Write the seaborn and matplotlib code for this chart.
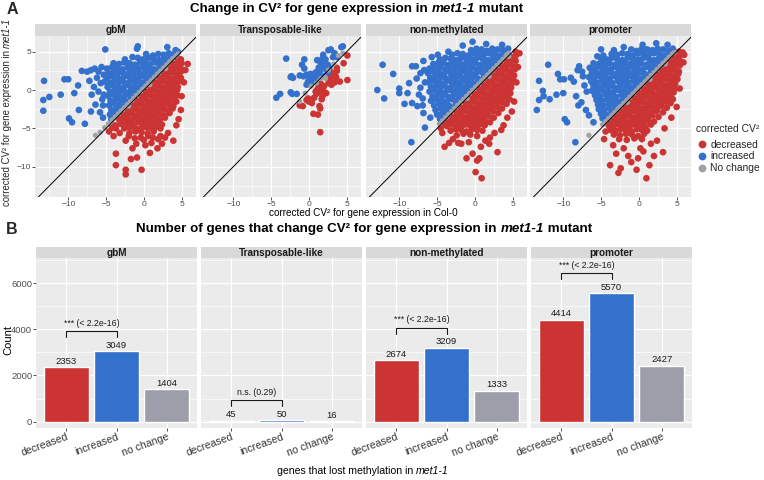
import matplotlib
matplotlib.use("Agg")
import matplotlib.pyplot as plt
from matplotlib.lines import Line2D
import pandas as pd
import seaborn as sns

# ---------------- data ----------------
facets = ["gbM", "Transposable-like", "non-methylated", "promoter"]
status_levels = ["decreased", "increased", "No change"]
change_levels = ["decreased", "increased", "no change"]

counts_decreased = [2353, 45, 2674, 4414]
counts_increased = [3049, 50, 3209, 5570]
counts_nochange = [1404, 16, 1333, 2427]
pvalue_labels = ["*** (< 2.2e-16)", "n.s. (0.29)", "*** (< 2.2e-16)", "*** (< 2.2e-16)"]

x_ticks_scatter = [-10, -5, 0, 5]
y_ticks_scatter = [-10, -5, 0, 5]
y_ticks_count = [0, 2000, 4000, 6000]

# scatter points (x = CV2 in Col-0, y = CV2 in met1-1)
gbm_increased = [
    (1.2, 4.5), (1.9, 4.7), (2.6, 4.6), (3.3, 4.8), (3.9, 4.6),
    (-0.8, 4.2), (-0.1, 4.0), (0.6, 4.2), (1.3, 4.1), (2.0, 3.9), (2.7, 4.2), (3.4, 4.1),
    (-3.3, 3.4), (-2.6, 3.6), (-1.9, 3.5), (-1.2, 3.3), (-0.5, 3.6), (0.2, 3.5), (0.9, 3.4), (1.6, 3.6), (2.3, 3.5), (2.9, 3.6),
    (-4.9, 2.8), (-4.2, 3.0), (-3.5, 2.9), (-2.8, 2.7), (-2.1, 3.0), (-1.4, 2.9), (-0.7, 2.8), (0.0, 3.0), (0.7, 2.9), (1.4, 2.7), (2.1, 3.0), (2.5, 3.1),
    (-4.7, 2.2), (-4.0, 2.4), (-3.3, 2.3), (-2.6, 2.1), (-1.9, 2.4), (-1.2, 2.3), (-0.5, 2.2), (0.2, 2.4), (0.9, 2.3), (1.6, 2.2), (1.9, 2.5),
    (-4.9, 1.6), (-4.2, 1.8), (-3.5, 1.7), (-2.8, 1.5), (-2.1, 1.8), (-1.4, 1.7), (-0.7, 1.6), (0.0, 1.8), (0.7, 1.7), (1.3, 1.9),
    (-4.6, 1.0), (-3.9, 1.2), (-3.2, 1.1), (-2.5, 0.9), (-1.8, 1.2), (-1.1, 1.1), (-0.4, 1.0), (0.3, 1.2), (0.7, 1.3),
    (-4.8, 0.4), (-4.1, 0.6), (-3.4, 0.5), (-2.7, 0.3), (-2.0, 0.6), (-1.3, 0.5), (-0.6, 0.4), (0.1, 0.6),
    (-4.5, -0.2), (-3.8, 0.0), (-3.1, -0.1), (-2.4, -0.3), (-1.7, 0.0), (-1.0, -0.1), (-0.5, 0.1),
    (-4.7, -0.8), (-4.0, -0.6), (-3.3, -0.7), (-2.6, -0.9), (-1.9, -0.6), (-1.1, -0.5),
    (-4.4, -1.4), (-3.7, -1.2), (-3.0, -1.3), (-2.3, -1.5), (-1.7, -1.1),
    (-4.6, -2.0), (-3.9, -1.8), (-3.2, -1.9), (-2.4, -1.7),
    (-4.3, -2.6), (-3.6, -2.4), (-2.9, -2.3),
    (-4.5, -3.2), (-3.8, -3.0), (-3.5, -3.0), (-4.3, -3.8), (-4.1, -3.5),
    (-13.3, -2.7), (-13.3, -1.3), (-13.2, 1.2), (-12.5, -0.9), (-11.0, -0.6), (-10.5, 1.4), (-10.0, 1.4),
    (-9.9, -3.7), (-9.5, -4.2), (-7.8, -4.4), (-8.6, -2.6), (-8.2, 2.5), (-7.5, 2.4), (-9.2, -0.4),
    (-8.7, 0.6), (-7.0, 2.6), (-6.5, 2.8), (-6.0, 2.4), (-5.6, 3.0), (-7.2, 1.2), (-6.6, 0.4), (-6.2, 1.6),
    (-5.7, 0.9), (-6.9, -0.6), (-6.0, -0.2), (-5.5, -1.2), (-6.4, -1.9), (-7.0, -2.8), (-5.8, -2.9),
    (-5.4, -2.0), (-5.3, 2.0), (-5.4, -3.6), (-5.1, 5.3), (-0.9, 5.4), (-0.8, 5.7), (3.1, 5.6), (4.2, 5.2),
    (-4.0, 3.5), (-2.5, 4.0), (-1.5, 4.3), (0.3, 4.7), (4.5, 5.0), (-5.2, 1.1), (-5.3, -0.6),
]
gbm_decreased = [
    (4.5, 4.1), (4.9, 4.0),
    (3.9, 3.4), (4.5, 3.6), (5.0, 3.5),
    (3.3, 2.8), (3.9, 3.0), (4.5, 2.9), (5.0, 2.7),
    (2.7, 2.2), (3.3, 2.4), (3.9, 2.3), (4.5, 2.1), (4.9, 2.4),
    (2.1, 1.6), (2.7, 1.8), (3.3, 1.7), (3.9, 1.5), (4.5, 1.8), (4.9, 1.6),
    (1.5, 1.0), (2.1, 1.2), (2.7, 1.1), (3.3, 0.9), (3.9, 1.2), (4.5, 1.0),
    (0.9, 0.4), (1.5, 0.6), (2.1, 0.5), (2.7, 0.3), (3.3, 0.6), (3.9, 0.5), (4.5, 0.4),
    (0.3, -0.2), (0.9, 0.0), (1.5, -0.1), (2.1, -0.3), (2.7, 0.0), (3.3, -0.1), (3.9, -0.2), (4.4, 0.0),
    (-0.3, -0.8), (0.3, -0.6), (0.9, -0.7), (1.5, -0.9), (2.1, -0.6), (2.7, -0.7), (3.3, -0.8), (3.9, -0.6), (4.4, -0.7),
    (-0.9, -1.4), (-0.3, -1.2), (0.3, -1.3), (0.9, -1.5), (1.5, -1.2), (2.1, -1.3), (2.7, -1.4), (3.3, -1.2), (3.9, -1.3), (4.3, -1.5),
    (-1.5, -2.0), (-0.9, -1.8), (-0.3, -1.9), (0.3, -2.1), (0.9, -1.8), (1.5, -1.9), (2.1, -2.0), (2.7, -1.8), (3.3, -1.9), (3.9, -2.1),
    (-2.1, -2.6), (-1.5, -2.4), (-0.9, -2.5), (-0.3, -2.7), (0.3, -2.4), (0.9, -2.5), (1.5, -2.6), (2.1, -2.4), (2.7, -2.5), (3.3, -2.7), (3.8, -2.4),
    (-2.7, -3.2), (-2.1, -3.0), (-1.5, -3.1), (-0.9, -3.3), (-0.3, -3.0), (0.3, -3.1), (0.9, -3.2), (1.5, -3.0), (2.1, -3.1), (2.7, -3.3), (3.4, -3.0),
    (-3.3, -3.8), (-2.7, -3.6), (-2.1, -3.7), (-1.5, -3.9), (-0.9, -3.6), (-0.3, -3.7), (0.3, -3.8), (0.9, -3.6), (1.5, -3.7), (2.1, -3.9), (2.8, -3.6),
    (-3.1, -4.4), (-2.5, -4.2), (-1.9, -4.3), (-1.3, -4.5), (-0.7, -4.2), (-0.1, -4.3), (0.5, -4.4), (1.1, -4.2), (1.7, -4.3), (2.4, -4.5),
    (-2.6, -5.0), (-2.0, -4.8), (-1.4, -4.9), (-0.8, -5.1), (-0.2, -4.8), (0.4, -4.9), (1.0, -5.0), (1.6, -4.8), (2.2, -5.0),
    (-1.9, -5.6), (-1.1, -5.4), (-0.3, -5.5), (0.5, -5.7), (1.3, -5.4),
    (-1.2, -6.3), (0.0, -6.5), (1.2, -6.2), (2.2, -6.0),
    (5.8, 3.4), (5.5, 2.6), (5.3, 1.0), (5.0, -0.8), (4.9, -2.6), (4.6, -3.8), (3.9, -6.6), (3.2, -5.6),
    (2.8, -6.2), (1.9, -6.4), (1.0, -6.9), (0.2, -7.2), (-0.9, -8.8), (-1.5, -7.6), (-2.4, -6.6), (-3.2, -5.6),
    (-3.7, -5.0), (-3.7, -8.3), (-3.7, -9.8), (-2.4, -11.0), (-2.4, -10.4), (-0.3, -10.4), (-1.7, -9.0),
    (0.8, -8.2), (1.8, -7.6), (-0.4, -6.2), (-2.0, -6.0), (2.4, -7.0), (4.3, -4.6), (-1.0, -7.0), (0.6, -6.0),
    (-4.6, -5.4), (-4.2, -4.9), (-4.0, -6.0), (-3.8, -4.6),
]
gbm_nochange = [
    (-6.4, -5.9), (-5.8, -5.5), (-5.2, -4.9), (-4.7, -4.4), (-4.2, -3.9), (-3.8, -3.5), (-3.4, -3.1),
    (-3.0, -2.7), (-2.6, -2.3), (-2.2, -1.9), (-1.8, -1.5), (-1.4, -1.1), (-1.0, -0.7), (-0.6, -0.3),
    (-0.2, 0.1), (0.2, 0.5), (0.6, 0.9), (1.0, 1.3), (1.4, 1.7), (1.8, 2.1), (2.2, 2.5), (2.6, 2.9),
    (3.0, 3.3), (3.4, 3.7), (3.8, 4.1), (4.2, 4.4), (4.5, 4.7), (-2.0, -2.1), (0.8, 0.7), (2.9, 2.8),
]

te_increased = [
    (-3.0, 4.1), (-0.6, 4.0), (-0.9, 3.3), (-0.6, 2.8), (1.1, 3.9), (1.9, 4.6), (1.8, 4.1), (2.0, 3.6),
    (1.7, 3.1), (2.6, 5.2), (2.9, 5.3), (3.2, 4.3), (3.7, 4.3), (4.3, 5.6), (4.5, 5.7), (2.5, 3.3),
    (2.7, 2.9), (2.3, 2.7), (1.3, 2.9), (0.9, 2.3), (0.5, 2.0), (0.2, 2.1), (-0.3, 2.0), (-0.7, 1.8),
    (-2.3, 1.8), (-2.1, 1.6), (-2.4, 1.7), (-0.3, 0.7), (-0.1, 1.1), (0.4, 1.0), (0.7, 1.3), (1.0, 1.8),
    (1.3, 2.0), (1.5, 2.5), (2.0, 1.8), (2.5, 2.3), (-2.4, -0.3), (-2.2, -0.5), (-1.6, -0.5), (-3.8, -0.5),
    (-4.3, -1.0), (0.1, 1.6), (-1.2, 1.9), (1.6, 3.4), (3.4, 4.8), (2.2, 4.0),
]
te_decreased = [
    (5.1, 4.5), (4.6, 3.5), (3.7, 2.9), (3.7, 2.5), (3.0, 2.3), (3.3, 2.0), (2.9, 1.8), (2.8, 1.4),
    (5.1, 1.3), (4.1, 1.1), (3.4, 1.0), (3.0, 0.7), (2.0, 0.5), (1.9, -0.1), (2.3, -0.4), (1.8, -0.8),
    (1.3, 0.5), (1.5, 0.3), (1.1, 0.05), (0.9, -0.2), (1.4, 0.7), (1.6, 0.8), (1.2, -0.3), (-0.1, -1.1),
    (0.0, -1.5), (0.4, -1.7), (-1.2, -2.0), (-0.8, -2.1), (1.4, -2.1), (1.5, -2.4), (0.6, -3.1), (1.2, -3.2),
    (1.5, -5.5), (-0.3, -1.3), (1.0, -0.5), (2.6, 0.9), (3.6, 1.7), (1.7, -1.2), (0.7, -1.0),
]
te_nochange = [
    (-1.2, -1.5), (2.1, 1.7), (2.2, 1.5), (3.9, 4.5), (4.5, 4.8), (1.0, 0.9), (0.3, 0.5),
    (2.6, 2.6), (3.3, 3.4), (-0.5, -0.4), (1.6, 1.5),
]

nonmeth_increased = [
    (-0.5, 5.2), (0.2, 5.4), (0.9, 5.3), (1.6, 5.1), (2.3, 5.4), (3.0, 5.3), (3.7, 5.2), (4.4, 5.4),
    (-3.0, 4.6), (-2.3, 4.8), (-1.6, 4.7), (-0.9, 4.5), (-0.2, 4.8), (0.5, 4.7), (1.2, 4.6), (1.9, 4.8), (2.6, 4.7), (3.3, 4.5), (3.9, 4.8),
    (-4.6, 4.0), (-3.9, 4.2), (-3.2, 4.1), (-2.5, 3.9), (-1.8, 4.2), (-1.1, 4.1), (-0.4, 4.0), (0.3, 4.2), (1.0, 4.1), (1.7, 3.9), (2.4, 4.2), (3.1, 4.0), (3.6, 4.2),
    (-5.5, 3.4), (-4.8, 3.6), (-4.1, 3.5), (-3.4, 3.3), (-2.7, 3.6), (-2.0, 3.5), (-1.3, 3.4), (-0.6, 3.6), (0.1, 3.5), (0.8, 3.3), (1.5, 3.6), (2.2, 3.5), (2.9, 3.6),
    (-6.0, 2.8), (-5.3, 3.0), (-4.6, 2.9), (-3.9, 2.7), (-3.2, 3.0), (-2.5, 2.9), (-1.8, 2.8), (-1.1, 3.0), (-0.4, 2.9), (0.3, 2.7), (1.0, 3.0), (1.7, 2.9), (2.4, 3.0),
    (-6.2, 2.2), (-5.5, 2.4), (-4.8, 2.3), (-4.1, 2.1), (-3.4, 2.4), (-2.7, 2.3), (-2.0, 2.2), (-1.3, 2.4), (-0.6, 2.3), (0.1, 2.1), (0.8, 2.4), (1.5, 2.3), (1.8, 2.5),
    (-5.9, 1.6), (-5.2, 1.8), (-4.5, 1.7), (-3.8, 1.5), (-3.1, 1.8), (-2.4, 1.7), (-1.7, 1.6), (-1.0, 1.8), (-0.3, 1.7), (0.4, 1.5), (1.2, 1.8),
    (-6.1, 1.0), (-5.4, 1.2), (-4.7, 1.1), (-4.0, 0.9), (-3.3, 1.2), (-2.6, 1.1), (-1.9, 1.0), (-1.2, 1.2), (-0.5, 1.1), (0.2, 0.9), (0.6, 1.2),
    (-5.8, 0.4), (-5.1, 0.6), (-4.4, 0.5), (-3.7, 0.3), (-3.0, 0.6), (-2.3, 0.5), (-1.6, 0.4), (-0.9, 0.6), (-0.2, 0.5),
    (-6.0, -0.2), (-5.3, 0.0), (-4.6, -0.1), (-3.9, -0.3), (-3.2, 0.0), (-2.5, -0.1), (-1.8, -0.2), (-1.1, 0.0), (-0.6, 0.0),
    (-5.6, -0.8), (-4.9, -0.6), (-4.2, -0.7), (-3.5, -0.9), (-2.8, -0.6), (-2.1, -0.7), (-1.3, -0.6),
    (-5.8, -1.4), (-5.1, -1.2), (-4.4, -1.3), (-3.7, -1.5), (-3.0, -1.2), (-2.3, -1.3), (-1.8, -1.2),
    (-5.4, -2.0), (-4.7, -1.8), (-4.0, -1.9), (-3.3, -2.1), (-2.5, -1.8),
    (-5.2, -2.6), (-4.5, -2.4), (-3.8, -2.5), (-3.1, -2.4),
    (-5.0, -3.2), (-4.3, -3.0), (-3.6, -3.1), (-4.6, -3.8), (-4.2, -3.6),
    (-12.2, 3.3), (-10.8, 2.1), (-12.9, 0.0), (-12.0, -1.1), (-8.4, -6.8), (-6.6, -4.9), (-9.3, -1.8),
    (-10.0, 0.2), (-10.0, -0.4), (-8.3, 3.1), (-7.8, 3.1), (-6.8, 3.8), (-5.7, 4.3), (-4.9, 4.6), (-7.7, 1.5),
    (-8.7, 0.9), (-7.2, 0.3), (-8.9, -0.4), (-8.3, -1.7), (-7.6, -2.1), (-6.9, -1.1), (-0.3, 6.3), (-1.6, 5.8),
    (1.5, 6.0), (3.6, 5.9), (-7.2, 2.2), (-6.8, -3.0), (-7.4, -0.6), (-6.6, 1.0), (-6.7, 2.6), (-6.9, -2.0),
    (-3.5, 5.0), (-5.9, -3.6),
]
nonmeth_decreased = [
    (5.4, 5.0), (4.8, 4.3), (5.4, 4.5), (4.2, 3.7), (4.8, 3.9), (5.4, 3.8),
    (3.6, 3.1), (4.2, 3.3), (4.8, 3.2), (5.3, 3.0),
    (3.0, 2.5), (3.6, 2.7), (4.2, 2.6), (4.8, 2.4), (5.3, 2.7),
    (2.4, 1.9), (3.0, 2.1), (3.6, 2.0), (4.2, 1.8), (4.8, 2.1), (5.2, 1.9),
    (1.8, 1.3), (2.4, 1.5), (3.0, 1.4), (3.6, 1.2), (4.2, 1.5), (4.8, 1.4), (5.1, 1.3),
    (1.2, 0.7), (1.8, 0.9), (2.4, 0.8), (3.0, 0.6), (3.6, 0.9), (4.2, 0.8), (4.8, 0.7),
    (0.6, 0.1), (1.2, 0.3), (1.8, 0.2), (2.4, 0.0), (3.0, 0.3), (3.6, 0.2), (4.2, 0.1), (4.8, 0.3),
    (0.0, -0.5), (0.6, -0.3), (1.2, -0.4), (1.8, -0.6), (2.4, -0.3), (3.0, -0.4), (3.6, -0.5), (4.2, -0.3), (4.7, -0.4),
    (-0.6, -1.1), (0.0, -0.9), (0.6, -1.0), (1.2, -1.2), (1.8, -0.9), (2.4, -1.0), (3.0, -1.1), (3.6, -0.9), (4.2, -1.0), (4.6, -1.2),
    (-1.2, -1.7), (-0.6, -1.5), (0.0, -1.6), (0.6, -1.8), (1.2, -1.5), (1.8, -1.6), (2.4, -1.7), (3.0, -1.5), (3.6, -1.6), (4.2, -1.8),
    (-1.8, -2.3), (-1.2, -2.1), (-0.6, -2.2), (0.0, -2.4), (0.6, -2.1), (1.2, -2.2), (1.8, -2.3), (2.4, -2.1), (3.0, -2.2), (3.6, -2.4),
    (-2.4, -2.9), (-1.8, -2.7), (-1.2, -2.8), (-0.6, -3.0), (0.0, -2.7), (0.6, -2.8), (1.2, -2.9), (1.8, -2.7), (2.4, -2.8), (3.1, -3.0),
    (-3.0, -3.5), (-2.4, -3.3), (-1.8, -3.4), (-1.2, -3.6), (-0.6, -3.3), (0.0, -3.4), (0.6, -3.5), (1.2, -3.3), (1.8, -3.4), (2.5, -3.6),
    (-3.5, -4.1), (-2.9, -3.9), (-2.3, -4.0), (-1.7, -4.2), (-1.1, -3.9), (-0.5, -4.0), (0.1, -4.1), (0.7, -3.9), (1.3, -4.0), (2.0, -4.2),
    (-3.7, -4.7), (-3.0, -4.5), (-2.4, -4.6), (-1.8, -4.8), (-1.2, -4.5), (-0.6, -4.6), (0.0, -4.7), (0.6, -4.5), (1.3, -4.6),
    (-3.2, -5.3), (-2.5, -5.1), (-1.8, -5.2), (-1.1, -5.4), (-0.4, -5.1), (0.3, -5.2), (1.0, -5.3),
    (-2.4, -5.9), (-1.5, -5.7), (-0.6, -5.8), (0.3, -6.0),
    (5.9, 4.8), (5.7, 3.0), (5.5, 1.0), (5.2, -1.5), (4.9, -2.8), (4.3, -3.6), (3.8, -4.6), (3.0, -8.1),
    (2.6, -5.6), (2.0, -6.2), (1.4, -6.6), (0.9, -11.5), (0.1, -10.7), (-0.3, -8.3), (0.6, -8.9), (0.3, -9.2),
    (-1.1, -8.9), (-4.0, -7.4), (-2.9, -6.4), (-4.3, -5.6), (-3.9, -4.5), (-4.5, -5.0), (-1.8, -7.0), (-0.8, -6.8),
    (0.8, -7.4), (1.9, -7.0), (-3.4, -6.9), (-2.2, -6.9), (3.5, -5.2),
]
nonmeth_nochange = [
    (-4.7, -4.4), (-4.3, -4.0), (-3.9, -3.6), (-3.5, -3.2), (-3.1, -2.8), (-2.7, -2.4), (-2.3, -2.0),
    (-1.9, -1.6), (-1.5, -1.2), (-1.1, -0.8), (-0.7, -0.4), (-0.3, 0.0), (0.1, 0.4), (0.5, 0.8),
    (0.9, 1.2), (1.3, 1.6), (1.7, 2.0), (2.1, 2.4), (2.5, 2.8), (2.9, 3.2), (3.3, 3.6), (3.7, 4.0),
    (4.1, 4.4), (4.5, 4.8), (4.2, 4.6), (4.5, 4.4), (-1.0, -1.1), (1.9, 1.8),
]

promoter_increased = [
    (-1.0, 5.3), (-0.3, 5.1), (0.4, 5.4), (1.1, 5.3), (1.8, 5.2), (2.5, 5.4), (3.2, 5.3), (3.9, 5.1), (4.5, 5.4),
    (-3.6, 4.7), (-2.9, 4.6), (-2.2, 4.8), (-1.5, 4.7), (-0.8, 4.5), (-0.1, 4.8), (0.6, 4.7), (1.3, 4.6), (2.0, 4.8), (2.7, 4.7), (3.4, 4.5), (4.0, 4.7),
    (-5.0, 4.1), (-4.3, 4.0), (-3.6, 4.2), (-2.9, 4.1), (-2.2, 3.9), (-1.5, 4.2), (-0.8, 4.1), (-0.1, 4.0), (0.6, 4.2), (1.3, 4.1), (2.0, 3.9), (2.7, 4.2), (3.4, 4.0),
    (-6.0, 3.5), (-5.3, 3.4), (-4.6, 3.6), (-3.9, 3.5), (-3.2, 3.3), (-2.5, 3.6), (-1.8, 3.5), (-1.1, 3.4), (-0.4, 3.6), (0.3, 3.5), (1.0, 3.3), (1.7, 3.6), (2.4, 3.5), (2.9, 3.6),
    (-6.5, 2.9), (-5.8, 2.8), (-5.1, 3.0), (-4.4, 2.9), (-3.7, 2.7), (-3.0, 3.0), (-2.3, 2.9), (-1.6, 2.8), (-0.9, 3.0), (-0.2, 2.9), (0.5, 2.7), (1.2, 3.0), (1.9, 2.9), (2.3, 3.0),
    (-6.2, 2.3), (-5.5, 2.2), (-4.8, 2.4), (-4.1, 2.3), (-3.4, 2.1), (-2.7, 2.4), (-2.0, 2.3), (-1.3, 2.2), (-0.6, 2.4), (0.1, 2.3), (0.8, 2.1), (1.6, 2.4),
    (-6.6, 1.7), (-5.9, 1.6), (-5.2, 1.8), (-4.5, 1.7), (-3.8, 1.5), (-3.1, 1.8), (-2.4, 1.7), (-1.7, 1.6), (-1.0, 1.8), (-0.3, 1.7), (0.4, 1.5), (1.1, 1.8),
    (-6.3, 1.1), (-5.6, 1.0), (-4.9, 1.2), (-4.2, 1.1), (-3.5, 0.9), (-2.8, 1.2), (-2.1, 1.1), (-1.4, 1.0), (-0.7, 1.2), (0.0, 1.1), (0.6, 1.3),
    (-6.0, 0.5), (-5.3, 0.4), (-4.6, 0.6), (-3.9, 0.5), (-3.2, 0.3), (-2.5, 0.6), (-1.8, 0.5), (-1.1, 0.4), (-0.4, 0.6), (0.0, 0.7),
    (-6.2, -0.1), (-5.5, -0.2), (-4.8, 0.0), (-4.1, -0.1), (-3.4, -0.3), (-2.7, 0.0), (-2.0, -0.1), (-1.3, -0.2), (-0.6, 0.0),
    (-5.8, -0.7), (-5.1, -0.8), (-4.4, -0.6), (-3.7, -0.7), (-3.0, -0.9), (-2.3, -0.6), (-1.6, -0.7), (-1.1, -0.6),
    (-5.6, -1.3), (-4.9, -1.4), (-4.2, -1.2), (-3.5, -1.3), (-2.8, -1.5), (-2.1, -1.2), (-1.7, -1.2),
    (-5.4, -1.9), (-4.7, -2.0), (-4.0, -1.8), (-3.3, -1.9), (-2.5, -1.8),
    (-5.3, -2.5), (-4.6, -2.6), (-3.9, -2.4), (-3.1, -2.5),
    (-5.0, -3.1), (-4.3, -3.2), (-3.6, -3.0), (-4.8, -3.7), (-4.2, -3.8),
    (-13.2, 1.2), (-13.5, -2.6), (-13.2, -1.3), (-12.7, -0.1), (-12.0, 3.3), (-12.6, -0.8), (-11.8, -1.2),
    (-10.9, -0.6), (-10.7, 2.1), (-10.4, 1.4), (-9.9, 1.4), (-10.0, -0.4), (-9.0, 1.6), (-9.8, -3.8),
    (-9.5, -4.2), (-8.4, -6.8), (-7.9, 3.1), (-8.1, 2.6), (-5.0, 5.3), (-3.3, 5.2), (-4.7, 4.5), (-5.5, 4.4),
    (2.3, 6.1), (-7.5, 2.4), (-7.2, 0.6), (-8.3, -0.8), (-7.6, -1.6), (-7.0, -2.6), (-8.0, -2.0), (-6.9, -0.2),
    (-7.4, 1.8), (-6.6, -3.3), (-6.0, -4.2), (0.5, 5.9), (3.8, 5.9), (-2.0, 5.6), (-8.6, 1.1),
]
promoter_decreased = [
    (5.3, 5.0), (5.8, 4.9), (4.8, 4.3), (5.4, 4.5), (4.2, 3.8), (4.8, 3.7), (5.4, 3.9),
    (3.6, 3.2), (4.2, 3.1), (4.8, 3.3), (5.4, 3.2),
    (3.0, 2.6), (3.6, 2.5), (4.2, 2.7), (4.8, 2.6), (5.3, 2.4),
    (2.4, 2.0), (3.0, 1.9), (3.6, 2.1), (4.2, 2.0), (4.8, 1.8), (5.2, 2.1),
    (1.8, 1.4), (2.4, 1.3), (3.0, 1.5), (3.6, 1.4), (4.2, 1.2), (4.8, 1.5), (5.1, 1.4),
    (1.2, 0.8), (1.8, 0.7), (2.4, 0.9), (3.0, 0.8), (3.6, 0.6), (4.2, 0.9), (4.8, 0.8),
    (0.6, 0.2), (1.2, 0.1), (1.8, 0.3), (2.4, 0.2), (3.0, 0.0), (3.6, 0.3), (4.2, 0.2), (4.7, 0.1),
    (0.0, -0.4), (0.6, -0.5), (1.2, -0.3), (1.8, -0.4), (2.4, -0.6), (3.0, -0.3), (3.6, -0.4), (4.2, -0.5), (4.6, -0.3),
    (-0.6, -1.0), (0.0, -1.1), (0.6, -0.9), (1.2, -1.0), (1.8, -1.2), (2.4, -0.9), (3.0, -1.0), (3.6, -1.1), (4.2, -0.9), (4.5, -1.2),
    (-1.2, -1.6), (-0.6, -1.7), (0.0, -1.5), (0.6, -1.6), (1.2, -1.8), (1.8, -1.5), (2.4, -1.6), (3.0, -1.7), (3.6, -1.5), (4.2, -1.7),
    (-1.8, -2.2), (-1.2, -2.3), (-0.6, -2.1), (0.0, -2.2), (0.6, -2.4), (1.2, -2.1), (1.8, -2.2), (2.4, -2.3), (3.0, -2.1), (3.7, -2.3),
    (-2.4, -2.8), (-1.8, -2.9), (-1.2, -2.7), (-0.6, -2.8), (0.0, -3.0), (0.6, -2.7), (1.2, -2.8), (1.8, -2.9), (2.4, -2.7), (3.2, -2.9),
    (-3.0, -3.4), (-2.4, -3.5), (-1.8, -3.3), (-1.2, -3.4), (-0.6, -3.6), (0.0, -3.3), (0.6, -3.4), (1.2, -3.5), (1.8, -3.3), (2.6, -3.5),
    (-3.6, -4.0), (-3.0, -4.1), (-2.4, -3.9), (-1.8, -4.0), (-1.2, -4.2), (-0.6, -3.9), (0.0, -4.0), (0.6, -4.1), (1.2, -3.9), (2.0, -4.1),
    (-4.0, -4.6), (-3.3, -4.7), (-2.6, -4.5), (-1.9, -4.6), (-1.2, -4.8), (-0.5, -4.5), (0.2, -4.6), (0.9, -4.7), (1.6, -4.5),
    (-3.8, -5.2), (-3.1, -5.3), (-2.4, -5.1), (-1.7, -5.2), (-1.0, -5.4), (-0.3, -5.1), (0.4, -5.2), (1.1, -5.3),
    (-3.3, -5.8), (-2.5, -5.9), (-1.7, -5.7), (-0.9, -5.8), (-0.1, -6.0), (0.7, -5.7),
    (-2.6, -6.4), (-1.6, -6.5), (-0.6, -6.3), (0.4, -6.4),
    (-2.7, -10.8), (-2.4, -10.2), (-3.8, -9.8), (-0.3, -10.4), (1.0, -11.5), (-0.1, -8.9), (3.2, -8.1),
    (-1.4, -8.6), (0.6, -8.0), (-2.0, -7.6), (-3.4, -7.2), (1.6, -7.0), (2.4, -6.6), (3.4, -5.0), (4.3, -3.6),
    (5.0, -2.2), (5.4, 0.2), (5.9, 3.6), (6.0, 4.6), (-4.4, -5.4), (-4.6, -6.4), (-3.0, -8.3), (0.2, -7.6),
    (-1.0, -9.4), (1.4, -9.8), (2.0, -8.6),
]
promoter_nochange = [
    (-6.6, -5.9), (-4.8, -4.5), (-4.4, -4.1), (-4.0, -3.7), (-3.6, -3.3), (-3.2, -2.9), (-2.8, -2.5),
    (-2.4, -2.1), (-2.0, -1.7), (-1.6, -1.3), (-1.2, -0.9), (-0.8, -0.5), (-0.4, -0.1), (0.0, 0.3),
    (0.4, 0.7), (0.8, 1.1), (1.2, 1.5), (1.6, 1.9), (2.0, 2.3), (2.4, 2.7), (2.8, 3.1), (3.2, 3.5),
    (3.6, 3.9), (4.0, 4.3), (4.4, 4.7), (4.7, 4.9), (-1.5, -1.6), (1.5, 1.4), (3.5, 3.4),
]

scatter_sets = {
    "gbM": (gbm_decreased, gbm_increased, gbm_nochange),
    "Transposable-like": (te_decreased, te_increased, te_nochange),
    "non-methylated": (nonmeth_decreased, nonmeth_increased, nonmeth_nochange),
    "promoter": (promoter_decreased, promoter_increased, promoter_nochange),
}

# ---------------- style ----------------
sns.set_theme(style="darkgrid")
plt.rcParams["font.family"] = ["Liberation Sans", "DejaVu Sans"]

RED = "#CC3333"
BLUE = "#3471CC"
GREY = "#A0A0A8"
palette_pts = {"decreased": RED, "increased": BLUE, "No change": GREY}
sizes_pts = {"decreased": 23, "increased": 23, "No change": 14}
palette_bars = {"decreased": RED, "increased": BLUE, "no change": "#9E9EAA"}
PANEL_BG = "#EBEBEB"
STRIP_BG = "#D9D9D9"

W, H = 764, 480
fig = plt.figure(figsize=(W / 100, H / 100), dpi=100)


def rect(left, top, w, h):
    return [left / W, 1 - (top + h) / H, w / W, h / H]


def style_axes(ax, labelsize):
    ax.set_facecolor(PANEL_BG)
    for sp in ax.spines.values():
        sp.set_visible(False)
    ax.set_axisbelow(True)
    ax.grid(which="major", color="white", linewidth=0.9)
    ax.grid(which="minor", color="white", linewidth=0.45)
    ax.tick_params(which="major", length=2.0, width=0.6, color="#333333",
                   labelsize=labelsize, labelcolor="#4D4D4D", pad=0.8,
                   bottom=True, left=True)
    ax.tick_params(which="minor", length=0)


def strip(left, top, w, h, label):
    sa = fig.add_axes(rect(left, top, w, h))
    sa.set_facecolor(STRIP_BG)
    sa.set_xticks([])
    sa.set_yticks([])
    sa.grid(False)
    for sp in sa.spines.values():
        sp.set_visible(False)
    sa.text(0.5, 0.5, label, ha="center", va="center", fontsize=7.2,
            fontweight="bold", color="#1A1A1A", transform=sa.transAxes)


def mixed_text(xc, yc, parts, size, weight="normal"):
    """Draw consecutive text pieces (plain / italic) centred on (xc, yc) in pixels."""
    texts = [fig.text(0, 1 - yc / H, s, fontsize=size, fontstyle=st, fontweight=weight,
                      ha="left", va="center", color="black") for s, st in parts]
    r = fig.canvas.get_renderer()
    lens = [t.get_window_extent(r).width for t in texts]
    pos = xc - sum(lens) / 2
    for t, ln in zip(texts, lens):
        t.set_x(pos / W)
        pos += ln
    return texts


# ---------------- panel A: scatter ----------------
scatter_lefts = [35, 200, 366, 530]
PW = 161
for i, fac in enumerate(facets):
    dec, inc, noc = scatter_sets[fac]
    df = pd.concat([
        pd.DataFrame(dec, columns=["x", "y"]).assign(status="decreased"),
        pd.DataFrame(inc, columns=["x", "y"]).assign(status="increased"),
        pd.DataFrame(noc, columns=["x", "y"]).assign(status="No change"),
    ], ignore_index=True)
    ax = fig.add_axes(rect(scatter_lefts[i], 36, PW, 161))
    sns.scatterplot(data=df, x="x", y="y", hue="status", palette=palette_pts,
                    hue_order=status_levels, size="status", sizes=sizes_pts,
                    linewidth=0, alpha=1, legend=False, ax=ax, zorder=2)
    style_axes(ax, 6.0)
    ax.axline((0, 0), slope=1, color="black", linewidth=0.7, zorder=3)
    ax.set_xlim(-14.4, 6.9)
    ax.set_ylim(-13.95, 7.05)
    ax.set_xticks(x_ticks_scatter)
    ax.set_xticks([-12.5, -7.5, -2.5, 2.5], minor=True)
    ax.set_yticks(y_ticks_scatter)
    ax.set_yticks([-12.5, -7.5, -2.5, 2.5], minor=True)
    ax.set_xlabel("")
    ax.set_ylabel("")
    if i > 0:
        ax.tick_params(axis="y", which="both", left=False, labelleft=False)
    strip(scatter_lefts[i], 24, PW, 12, fac)

# legend
handles = [Line2D([0], [0], marker="o", linestyle="", markersize=5.6,
                  markerfacecolor=palette_pts[k], markeredgewidth=0, label=k)
           for k in status_levels]
leg = fig.legend(handles=handles, title="corrected CV\u00b2", loc="upper left",
                 bbox_to_anchor=(696 / W, 1 - 124 / H), frameon=False,
                 fontsize=7.4, title_fontsize=7.4, handletextpad=0.2,
                 labelspacing=0.18, borderaxespad=0, handlelength=1.2,
                 borderpad=0)
leg._legend_box.align = "left"
leg._legend_box.sep = 4

fig.text(363 / W, 1 - 213 / H, "corrected CV\u00b2 for gene expression in Col-0",
         ha="center", va="center", fontsize=7.2, color="black")

# ---------------- panel B: bars ----------------
bar_lefts = [36, 201, 366, 531]
for i, fac in enumerate(facets):
    vals = [counts_decreased[i], counts_increased[i], counts_nochange[i]]
    dfb = pd.DataFrame({"change": change_levels, "count": vals})
    ax = fig.add_axes(rect(bar_lefts[i], 258, PW, 170))
    sns.barplot(data=dfb, x="change", y="count", hue="change", palette=palette_bars,
                order=change_levels, hue_order=change_levels, width=0.9,
                legend=False, ax=ax, saturation=1, zorder=2)
    style_axes(ax, 6.8)
    ax.set_xlim(-0.6, 2.6)
    ax.set_ylim(-280, 7100)
    ax.set_yticks(y_ticks_count)
    ax.set_yticks([1000, 3000, 5000, 7000], minor=True)
    ax.grid(axis="x", which="minor", visible=False)
    ax.set_xlabel("")
    ax.set_ylabel("")
    ax.set_xticks(range(3))
    ax.set_xticklabels(["decreased", "increased", "no change"], rotation=20,
                       ha="right", rotation_mode="anchor", fontsize=7.6,
                       color="#333333")
    if i > 0:
        ax.tick_params(axis="y", which="both", left=False, labelleft=False)
    for j, v in enumerate(vals):
        ax.text(j, v + 60, f"{v}", ha="center", va="bottom", fontsize=6.8,
                color="#1A1A1A")
    top = max(vals[0], vals[1]) + 870
    ax.plot([0, 0, 1, 1], [top - 260, top, top, top - 260], color="#1A1A1A",
            linewidth=0.8, zorder=3)
    ax.text(0.5, top + 150, pvalue_labels[i], ha="center", va="bottom",
            fontsize=6.3, color="#1A1A1A")
    strip(bar_lefts[i], 247, PW, 11, fac)

fig.text(8 / W, 1 - 340 / H, "Count", rotation=90, ha="center", va="center",
         fontsize=8, color="black")

mixed_text(357, 9, [("Change in CV\u00b2 for gene expression in ", "normal"),
                    ("met1-1", "italic"), (" mutant", "normal")], 9.6, weight="bold")
mixed_text(364, 229, [("Number of genes that change CV\u00b2 for gene expression in ", "normal"),
                      ("met1-1", "italic"), (" mutant", "normal")], 9.6, weight="bold")
mixed_text(363, 471, [("genes that lost methylation in ", "normal"),
                      ("met1-1", "italic")], 7.6)

# rotated y label of panel A (plain + italic parts stacked upward)
r = fig.canvas.get_renderer()
ylab_parts = [("corrected CV\u00b2 for gene expression in ", "normal"), ("met1-1", "italic")]
ytexts = [fig.text(0, 0, s, fontsize=6.9, fontstyle=st, rotation=90, ha="center",
                   va="bottom") for s, st in ylab_parts]
lens = [t.get_window_extent(r).height for t in ytexts]
pos = 112 + sum(lens) / 2
for t, ln in zip(ytexts, lens):
    t.set_position((7 / W, 1 - pos / H))
    pos -= ln

fig.text(12 / W, 1 - 10 / H, "A", fontsize=11.5, fontweight="bold", ha="center", va="center")
fig.text(12 / W, 1 - 229 / H, "B", fontsize=11.5, fontweight="bold", ha="center", va="center")

fig.savefig("out.png", dpi=100)
